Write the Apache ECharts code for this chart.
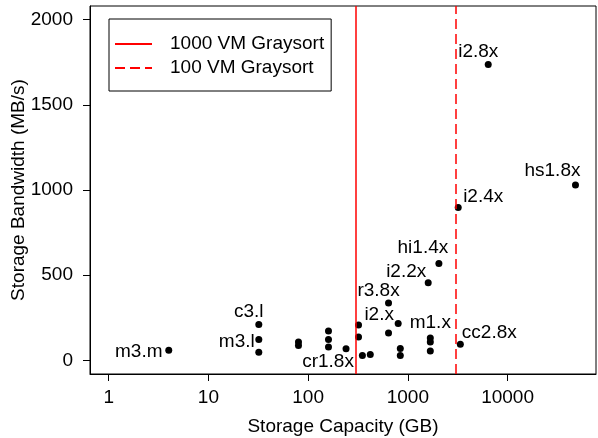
<!DOCTYPE html>
<html>
<head>
<meta charset="utf-8">
<script src="https://cdn.jsdelivr.net/npm/echarts@6/dist/echarts.min.js"></script>
<style>
  html, body { margin: 0; padding: 0; background: #fff; }
  #chart { width: 598px; height: 438px; }
</style>
</head>
<body>
<div id="chart"></div>
<script>
// instance storage vs bandwidth
var instanceNames = ['m3.m', 'c3.l', 'm3.l', '', '', '', '', '', '', 'cr1.8x', '', '', '', '',
    'r3.8x', '', 'i2.x', '', '', 'i2.2x', 'hi1.4x', 'm1.x', '', '', 'i2.4x', 'cc2.8x', 'i2.8x', 'hs1.8x'];
var capacityGB = [4, 32, 32, 32, 80, 80, 160, 160, 160, 240, 320, 320, 350, 420,
    640, 640, 800, 840, 840, 1600, 2048, 1680, 1680, 1680, 3200, 3360, 6400, 48000];
var bandwidthMBs = [59, 210, 122, 47, 108, 88, 172, 122, 78, 68, 208, 137, 29, 34,
    337, 161, 216, 69, 29, 455, 569, 131, 108, 55, 898, 94, 1737, 1029];

var xTicks = [1, 10, 100, 1000, 10000];
var yTicks = [0, 500, 1000, 1500, 2000];

var graysort1000 = 300;
var graysort100 = 3000;

// label placement (pixel offset of label centre from the point)
var labelOffsets = {
    'm3.m': [-30, 1], 'c3.l': [-10, -13], 'm3.l': [-22, 2], 'cr1.8x': [-18, 13],
    'r3.8x': [-10, -12], 'i2.x': [-19, -9], 'i2.2x': [-22, -11], 'hi1.4x': [-16, -16],
    'm1.x': [0, -15], 'cc2.8x': [29, -12], 'i2.4x': [25, -11], 'i2.8x': [-10, -13],
    'hs1.8x': [-23, -14]
};

var FONT = 'Liberation Sans, Arial, Helvetica, sans-serif';

var points = capacityGB.map(function (c, i) {
    var name = instanceNames[i];
    var item = { value: [c, bandwidthMBs[i]], name: name };
    if (name) {
        item.label = {
            show: true, offset: labelOffsets[name],
            color: '#000', textBorderWidth: 0
        };
    }
    return item;
});

var chart = echarts.init(document.getElementById('chart'), null, { renderer: 'canvas' });

var option = {
    animation: false,
    textStyle: { fontFamily: FONT },
    grid: {
        left: 90, right: 2, top: 6, bottom: 64,
        containLabel: false,
        outerBoundsMode: 'none',
        show: true, borderColor: '#000', borderWidth: 1
    },
    legend: {
        orient: 'vertical',
        left: 109, top: 19,
        padding: [15, 7, 13, 5],
        borderColor: '#000', borderWidth: 1, borderRadius: 0,
        itemWidth: 37, itemHeight: 14, itemGap: 4,
        itemStyle: { color: 'rgba(0,0,0,0)', borderWidth: 0, opacity: 0 },
        textStyle: { fontSize: 19, color: '#000', fontFamily: FONT, lineHeight: 20, padding: [0, 0, 0, 13] },
        data: ['1000 VM Graysort', '100 VM Graysort']
    },
    xAxis: {
        type: 'log',
        logBase: 10,
        min: 0.649,
        max: 77100,
        name: 'Storage Capacity (GB)',
        nameLocation: 'middle',
        nameGap: 43,
        nameMoveOverlap: false,
        nameTextStyle: { fontSize: 19, color: '#000', fontFamily: FONT },
        axisLine: { show: true, onZero: false, lineStyle: { color: '#000', width: 1 } },
        axisTick: { show: true, customValues: xTicks, length: 7, lineStyle: { color: '#000' } },
        axisLabel: {
            customValues: xTicks, margin: 14, fontSize: 19, color: '#000', fontFamily: FONT,
            formatter: function (v) { return String(Math.round(v)); }
        },
        splitLine: { show: false },
        minorSplitLine: { show: false }
    },
    yAxis: {
        type: 'value',
        min: -80,
        max: 2080,
        name: 'Storage Bandwidth (MB/s)',
        nameLocation: 'middle',
        nameGap: 62,
        nameMoveOverlap: false,
        nameTextStyle: { fontSize: 19, color: '#000', fontFamily: FONT },
        axisLine: { show: true, onZero: false, lineStyle: { color: '#000', width: 1 } },
        axisTick: { show: true, customValues: yTicks, length: 7, lineStyle: { color: '#000' } },
        axisLabel: {
            customValues: yTicks, margin: 17, fontSize: 19, color: '#000', fontFamily: FONT,
            formatter: function (v) { return String(v); }
        },
        splitLine: { show: false }
    },
    series: [
        {
            name: '1000 VM Graysort',
            type: 'line',
            data: [],
            symbol: 'none',
            color: '#ff0000',
            lineStyle: { color: '#ff0000', width: 1.5, type: 'solid' },
            markLine: {
                silent: true,
                symbol: 'none',
                label: { show: false },
                lineStyle: { color: '#ff0000', width: 1.5, type: 'solid' },
                data: [{ xAxis: graysort1000 }]
            }
        },
        {
            name: '100 VM Graysort',
            type: 'line',
            data: [],
            symbol: 'none',
            color: '#ff0000',
            lineStyle: { color: '#ff0000', width: 1.5, type: [10, 5] },
            markLine: {
                silent: true,
                symbol: 'none',
                label: { show: false },
                lineStyle: { color: '#ff0000', width: 1.5, type: [10, 5] },
                data: [{ xAxis: graysort100 }]
            }
        },
        {
            name: 'instances',
            type: 'scatter',
            symbol: 'circle',
            symbolSize: 7,
            itemStyle: { color: '#000', opacity: 1 },
            label: {
                show: false,
                position: 'inside',
                fontSize: 19,
                color: '#000',
                textBorderWidth: 0,
                fontFamily: FONT,
                formatter: '{b}'
            },
            data: points
        }
    ]
};

chart.setOption(option);
</script>
</body>
</html>
